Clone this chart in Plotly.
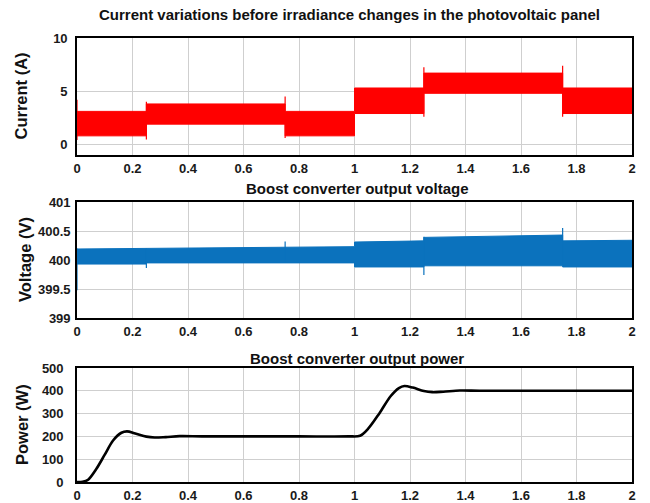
import plotly.graph_objects as go
from plotly.subplots import make_subplots

# --- PV panel current: ripple envelope per irradiance step (A) ---
current_edges = [0.0, 0.25, 0.75, 1.0, 1.25, 1.75, 2.0]
current_hi = [3.1, 3.8, 3.1, 5.3, 6.7, 5.3]
current_lo = [0.8, 1.9, 0.8, 2.9, 4.8, 2.9]
# switching transients
current_spike_t = [0.0, 0.25, 0.75, 1.25, 1.75]
current_spike_max = [4.2, 4.0, 4.5, 7.25, 7.4]
current_spike_min = [0.4, 0.45, 0.6, 2.6, 2.6]

# --- boost converter output voltage: ripple envelope (V) ---
voltage_edges = [0.0, 0.25, 1.0, 1.25, 1.75, 2.0]
voltage_hi_start = [400.19, 400.21, 400.31, 400.39, 400.33]
voltage_hi_end = [400.20, 400.23, 400.33, 400.43, 400.34]
voltage_lo = [399.93, 399.95, 399.88, 399.90, 399.88]
voltage_spike_t = [0.0, 0.25, 0.75, 1.25, 1.75]
voltage_spike_max = [400.2, 400.2, 400.32, 400.4, 400.55]
voltage_spike_min = [399.48, 399.86, 399.95, 399.74, 399.9]

# --- boost converter output power (W) ---
power_t = [0.0, 0.02, 0.04, 0.07, 0.10, 0.13, 0.16, 0.18, 0.21, 0.25, 0.28,
           0.32, 0.37, 0.45, 0.6, 0.8, 0.98, 1.02, 1.05, 1.09, 1.13, 1.16,
           1.18, 1.21, 1.25, 1.28, 1.32, 1.38, 1.45, 1.6, 1.8, 2.0]
power_w = [0, 1, 10, 58, 120, 182, 216, 222, 213, 199, 195,
           197, 201, 200, 200, 200, 200, 203, 235, 302, 376, 412,
           421, 414, 399, 394, 396, 401, 400, 400, 400, 400]

x_ticks = [0, 0.2, 0.4, 0.6, 0.8, 1, 1.2, 1.4, 1.6, 1.8, 2]
x_tick_text = ["0", "0.2", "0.4", "0.6", "0.8", "1", "1.2", "1.4", "1.6", "1.8", "2"]
current_ticks = [0, 5, 10]
voltage_ticks = [399, 399.5, 400, 400.5, 401]
voltage_tick_text = ["399", "399.5", "400", "400.5", "401"]
power_ticks = [0, 100, 200, 300, 400, 500]

titles = ["Current variations before irradiance changes in the photovoltaic panel",
          "Boost converter output voltage",
          "Boost converter output power"]
y_titles = ["Current (A)", "Voltage (V)", "Power (W)"]

RED = "#ff0000"
BLUE = "#0b72bd"
FONT = "Liberation Sans"


def band_polygon(edges, hi_start, hi_end, lo):
    """Closed step outline: upper envelope left-to-right, lower envelope back."""
    xs, ys = [], []
    for i in range(len(edges) - 1):
        xs += [edges[i], edges[i + 1]]
        ys += [hi_start[i], hi_end[i]]
    for i in reversed(range(len(edges) - 1)):
        xs += [edges[i + 1], edges[i]]
        ys += [lo[i], lo[i]]
    xs.append(xs[0])
    ys.append(ys[0])
    return xs, ys


def spikes(ts, mins, maxs):
    xs, ys = [], []
    for t, a, b in zip(ts, mins, maxs):
        xs += [t, t, None]
        ys += [a, b, None]
    return xs, ys


fig = make_subplots(rows=3, cols=1)

cx, cy = band_polygon(current_edges, current_hi, current_hi, current_lo)
fig.add_trace(go.Scatter(x=cx, y=cy, fill="toself", fillcolor=RED, mode="lines",
                         line=dict(color=RED, width=1), hoverinfo="skip"), row=1, col=1)
sx, sy = spikes(current_spike_t, current_spike_min, current_spike_max)
fig.add_trace(go.Scatter(x=sx, y=sy, mode="lines", line=dict(color=RED, width=1.2)),
              row=1, col=1)

vx, vy = band_polygon(voltage_edges, voltage_hi_start, voltage_hi_end, voltage_lo)
fig.add_trace(go.Scatter(x=vx, y=vy, fill="toself", fillcolor=BLUE, mode="lines",
                         line=dict(color=BLUE, width=1), hoverinfo="skip"), row=2, col=1)
sx, sy = spikes(voltage_spike_t, voltage_spike_min, voltage_spike_max)
fig.add_trace(go.Scatter(x=sx, y=sy, mode="lines", line=dict(color=BLUE, width=1.2)),
              row=2, col=1)

fig.add_trace(go.Scatter(x=power_t, y=power_w, mode="lines",
                         line=dict(color="black", width=2.6, shape="spline", smoothing=0.9)),
              row=3, col=1)

W, H = 650, 503
x_dom = [77 / W, 632 / W]
panels_px = [(38, 155), (202, 318), (368, 482)]
y_doms = [[1 - b / H, 1 - t / H] for t, b in panels_px]
y_ranges = [[-1, 10], [399, 401], [0, 500]]
y_tickvals = [current_ticks, voltage_ticks, power_ticks]
y_ticktext = [[str(v) for v in current_ticks], voltage_tick_text,
              [str(v) for v in power_ticks]]
y_label_standoff = [5, 2, 9]

tick_font = dict(family=FONT, size=13, color="#1a1a1a", weight="bold")
axis_common = dict(showline=True, linecolor="black", linewidth=1.6, mirror=True,
                   showgrid=True, gridcolor="#cfcfcf", gridwidth=1, zeroline=False,
                   ticks="", tickfont=tick_font, automargin=False)

for i in range(3):
    n = "" if i == 0 else str(i + 1)
    fig.layout["xaxis" + n].update(domain=x_dom, range=[0, 2], tickvals=x_ticks,
                                   ticktext=x_tick_text, ticklabelstandoff=1,
                                   **axis_common)
    fig.layout["yaxis" + n].update(domain=y_doms[i], range=y_ranges[i],
                                   tickvals=y_tickvals[i], ticktext=y_ticktext[i],
                                   ticklabelstandoff=y_label_standoff[i],
                                   **axis_common)

title_y_px = [14, 188, 358]
title_x_px = [349, 357, 357]
y_title_x_px = [21, 25, 22]
annotations = []
for i in range(3):
    annotations.append(dict(text=titles[i], xref="paper", yref="paper",
                            x=title_x_px[i] / W, y=1 - title_y_px[i] / H,
                            xanchor="center", yanchor="middle", showarrow=False,
                            font=dict(family=FONT, size=15, color="#111111", weight="bold")))
    t, b = panels_px[i]
    annotations.append(dict(text=y_titles[i], xref="paper", yref="paper",
                            x=y_title_x_px[i] / W, y=1 - ((t + b) / 2) / H,
                            xanchor="center", yanchor="middle", showarrow=False,
                            textangle=-90,
                            font=dict(family=FONT, size=16.5, color="#111111", weight="bold")))

fig.update_layout(width=W, height=H, margin=dict(l=0, r=0, t=0, b=0),
                  paper_bgcolor="white", plot_bgcolor="white", showlegend=False,
                  annotations=annotations)

fig.write_html("out.html")
